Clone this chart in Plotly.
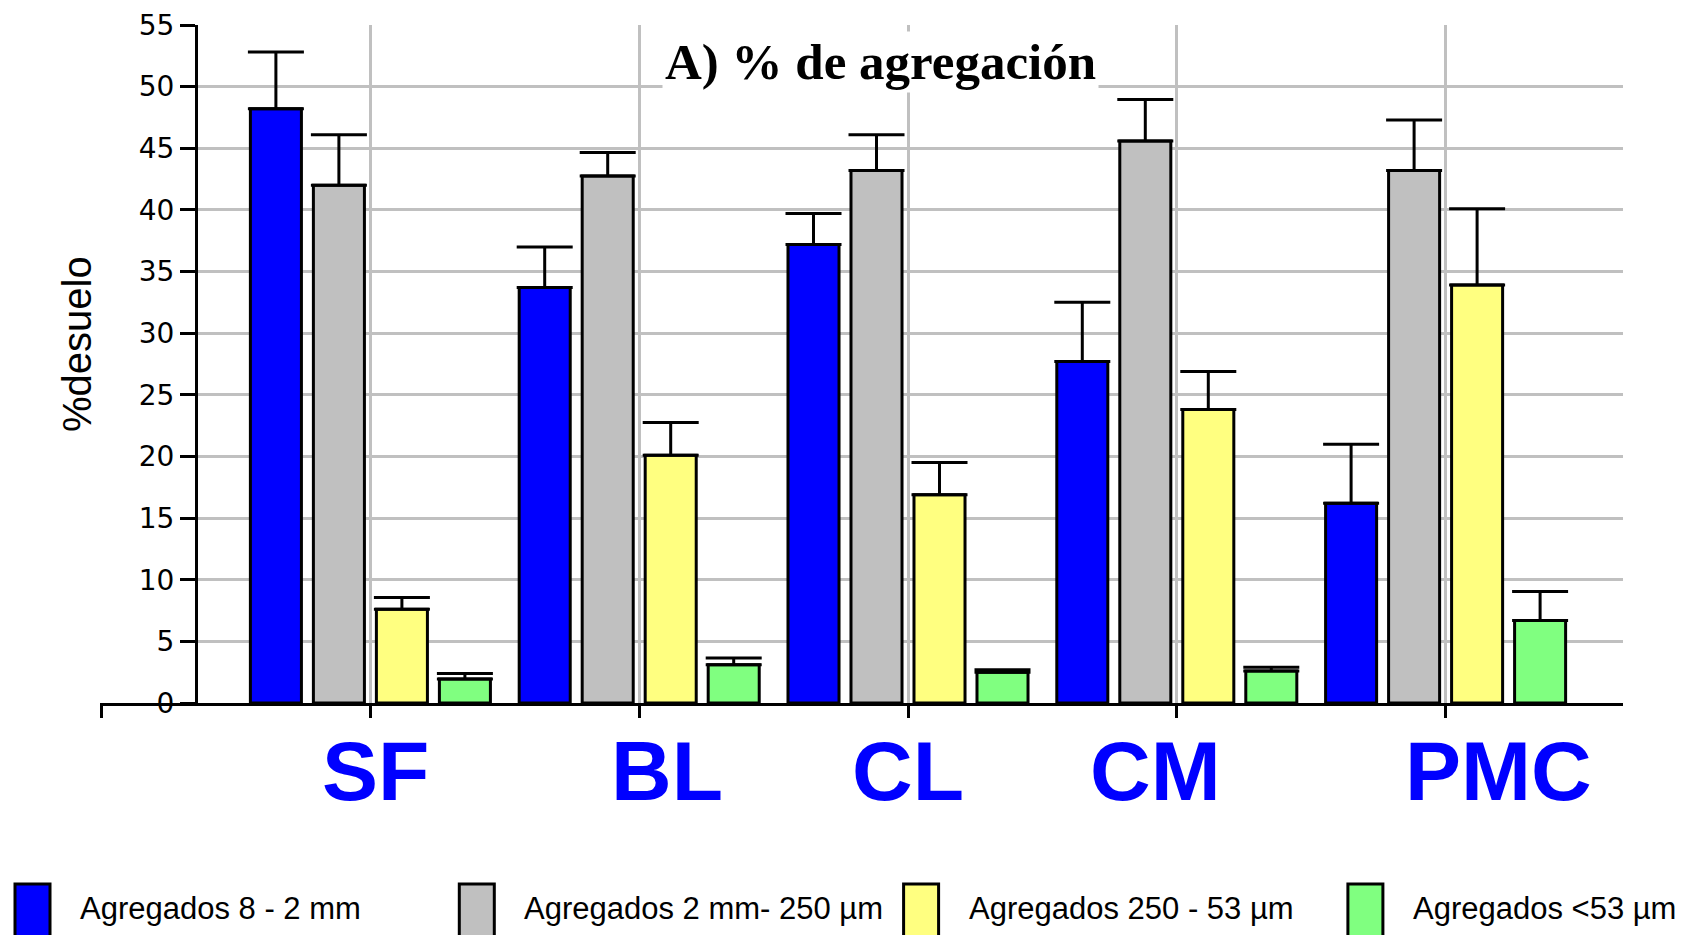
import plotly.graph_objects as go

# ---------------- data ----------------
categories = ["SF", "BL", "CL", "CM", "PMC"]
series_names = [
    "Agregados 8 - 2 mm",
    "Agregados 2 mm- 250 µm",
    "Agregados 250 - 53 µm",
    "Agregados &lt;53 µm",
]
agg_8_2mm = [48.2, 33.7, 37.2, 27.7, 16.2]
agg_8_2mm_err = [4.6, 3.3, 2.5, 4.8, 4.8]
agg_2mm_250um = [42.0, 42.75, 43.2, 45.6, 43.2]
agg_2mm_250um_err = [4.1, 1.9, 2.9, 3.35, 4.1]
agg_250_53um = [7.6, 20.1, 16.9, 23.8, 33.9]
agg_250_53um_err = [0.95, 2.65, 2.6, 3.1, 6.2]
agg_lt53um = [1.95, 3.1, 2.5, 2.6, 6.7]
agg_lt53um_err = [0.45, 0.55, 0.2, 0.3, 2.35]
y_tick_values = [0, 5, 10, 15, 20, 25, 30, 35, 40, 45, 50, 55]

values = [agg_8_2mm, agg_2mm_250um, agg_250_53um, agg_lt53um]
errors = [agg_8_2mm_err, agg_2mm_250um_err, agg_250_53um_err, agg_lt53um_err]
colors = ["#0000FF", "#C0C0C0", "#FFFF80", "#80FF80"]

# ---------------- layout constants (reference-page pixels) ----------------
PAGE_W, PAGE_H = 1686, 935
BODY_MARGIN = 8                    # default <body> margin of the html page
W, H = PAGE_W - BODY_MARGIN, PAGE_H - BODY_MARGIN
PLOT_L, PLOT_R, PLOT_T, PLOT_B = 100, 1623, 25, 703   # in page pixels
ML = PLOT_L - BODY_MARGIN
MT = PLOT_T - BODY_MARGIN
MR = PAGE_W - PLOT_R
MB = PAGE_H - PLOT_B
PW = PLOT_R - PLOT_L
PH = PLOT_B - PLOT_T
unit_px = 268.8          # px per category
first_center_px = 370.4  # page px of first category centre
yaxis_px = 198

def px2data(px):
    return (px - first_center_px) / unit_px

def px2paper_x(px):
    return (px - PLOT_L) / PW

def px2paper_y(py):
    return (PLOT_B - py) / PH

main_dom0 = px2paper_x(yaxis_px)
xr_main = [px2data(yaxis_px), px2data(PLOT_R)]
xr_left = [px2data(PLOT_L), px2data(yaxis_px)]

xpos = list(range(len(categories)))

fig = go.Figure()
for name, vals, errs, col in zip(series_names, values, errors, colors):
    fig.add_trace(go.Bar(
        x=xpos, y=vals, name=name,
        marker=dict(color=col, line=dict(color="black", width=3)),
        error_y=dict(type="data", array=errs, arrayminus=[0] * len(errs),
                     symmetric=False, color="black", thickness=3, width=28),
        showlegend=False,
    ))
# empty trace so that the short left stub of the x axis is drawn
fig.add_trace(go.Scatter(x=[], y=[], xaxis="x2", yaxis="y2", showlegend=False,
                         hoverinfo="skip"))

fig.update_layout(
    width=W, height=H,
    margin=dict(l=ML, r=MR, t=MT, b=MB, autoexpand=False),
    paper_bgcolor="white", plot_bgcolor="white",
    barmode="group", bargap=0.0625, bargroupgap=0.19,
    showlegend=False,
    xaxis=dict(
        domain=[main_dom0, 1], range=xr_main, anchor="y",
        tickvals=xpos, ticktext=[""] * len(xpos),
        ticks="outside", ticklen=12, tickwidth=3, tickcolor="black",
        showline=True, linecolor="black", linewidth=3,
        showgrid=True, gridcolor="#C0C0C0", gridwidth=3,
        zeroline=False, automargin=False,
    ),
    xaxis2=dict(
        domain=[0, main_dom0], range=xr_left, anchor="y2",
        tickvals=[-1.0], ticktext=[""],
        ticks="outside", ticklen=12, tickwidth=3, tickcolor="black",
        showline=True, linecolor="black", linewidth=3,
        showgrid=False, zeroline=False, automargin=False,
    ),
    yaxis=dict(
        range=[0, 55], anchor="x",
        tickvals=y_tick_values,
        ticks="outside", ticklen=15, tickwidth=3, tickcolor="black",
        showline=True, linecolor="black", linewidth=3,
        showgrid=True, gridcolor="#C0C0C0", gridwidth=3,
        zeroline=False, automargin=False, ticklabeloverflow="allow",
        tickfont=dict(family="DejaVu Sans", size=28, color="black"),
    ),
    yaxis2=dict(
        range=[0, 55], anchor="x2", showgrid=False, showline=False,
        showticklabels=False, ticks="", zeroline=False, automargin=False,
    ),
)

# y-axis title
fig.add_annotation(
    x=px2paper_x(77), y=px2paper_y(344), xref="paper", yref="paper",
    xanchor="center", yanchor="middle", textangle=-90,
    text="%desuelo", showarrow=False,
    font=dict(family="Liberation Sans", size=40, color="black"),
)

# title
fig.add_annotation(
    x=px2data(880), y=52.0, xref="x", yref="y",
    text="A) % de agregación", showarrow=False,
    font=dict(family="Liberation Serif", size=51, color="black", weight="bold"),
    bgcolor="white", borderpad=2,
)

# category labels
label_dx = [0.02, 0.105, 0.0, -0.08, 0.195]
for i, (cat, dx) in enumerate(zip(categories, label_dx)):
    fig.add_annotation(
        x=i + dx, y=px2paper_y(771), xref="x", yref="paper",
        xanchor="center", yanchor="middle",
        text=cat, showarrow=False,
        font=dict(family="Liberation Sans", size=84, color="#0000FF", weight="bold"),
    )

# legend (manual, bottom)
leg_x0, leg_step, sw_w = 15, 444.3, 35
for i, (name, col) in enumerate(zip(series_names, colors)):
    x0 = leg_x0 + i * leg_step
    fig.add_shape(
        type="rect", xref="paper", yref="paper",
        x0=px2paper_x(x0), x1=px2paper_x(x0 + sw_w),
        y0=px2paper_y(884), y1=px2paper_y(945),
        fillcolor=col, line=dict(color="black", width=3),
    )
    fig.add_annotation(
        x=px2paper_x(x0 + 63), y=px2paper_y(908), xref="paper", yref="paper",
        xanchor="left", yanchor="middle",
        text=name, showarrow=False,
        font=dict(family="Liberation Sans", size=31, color="black"),
    )

fig.write_html("out.html")
